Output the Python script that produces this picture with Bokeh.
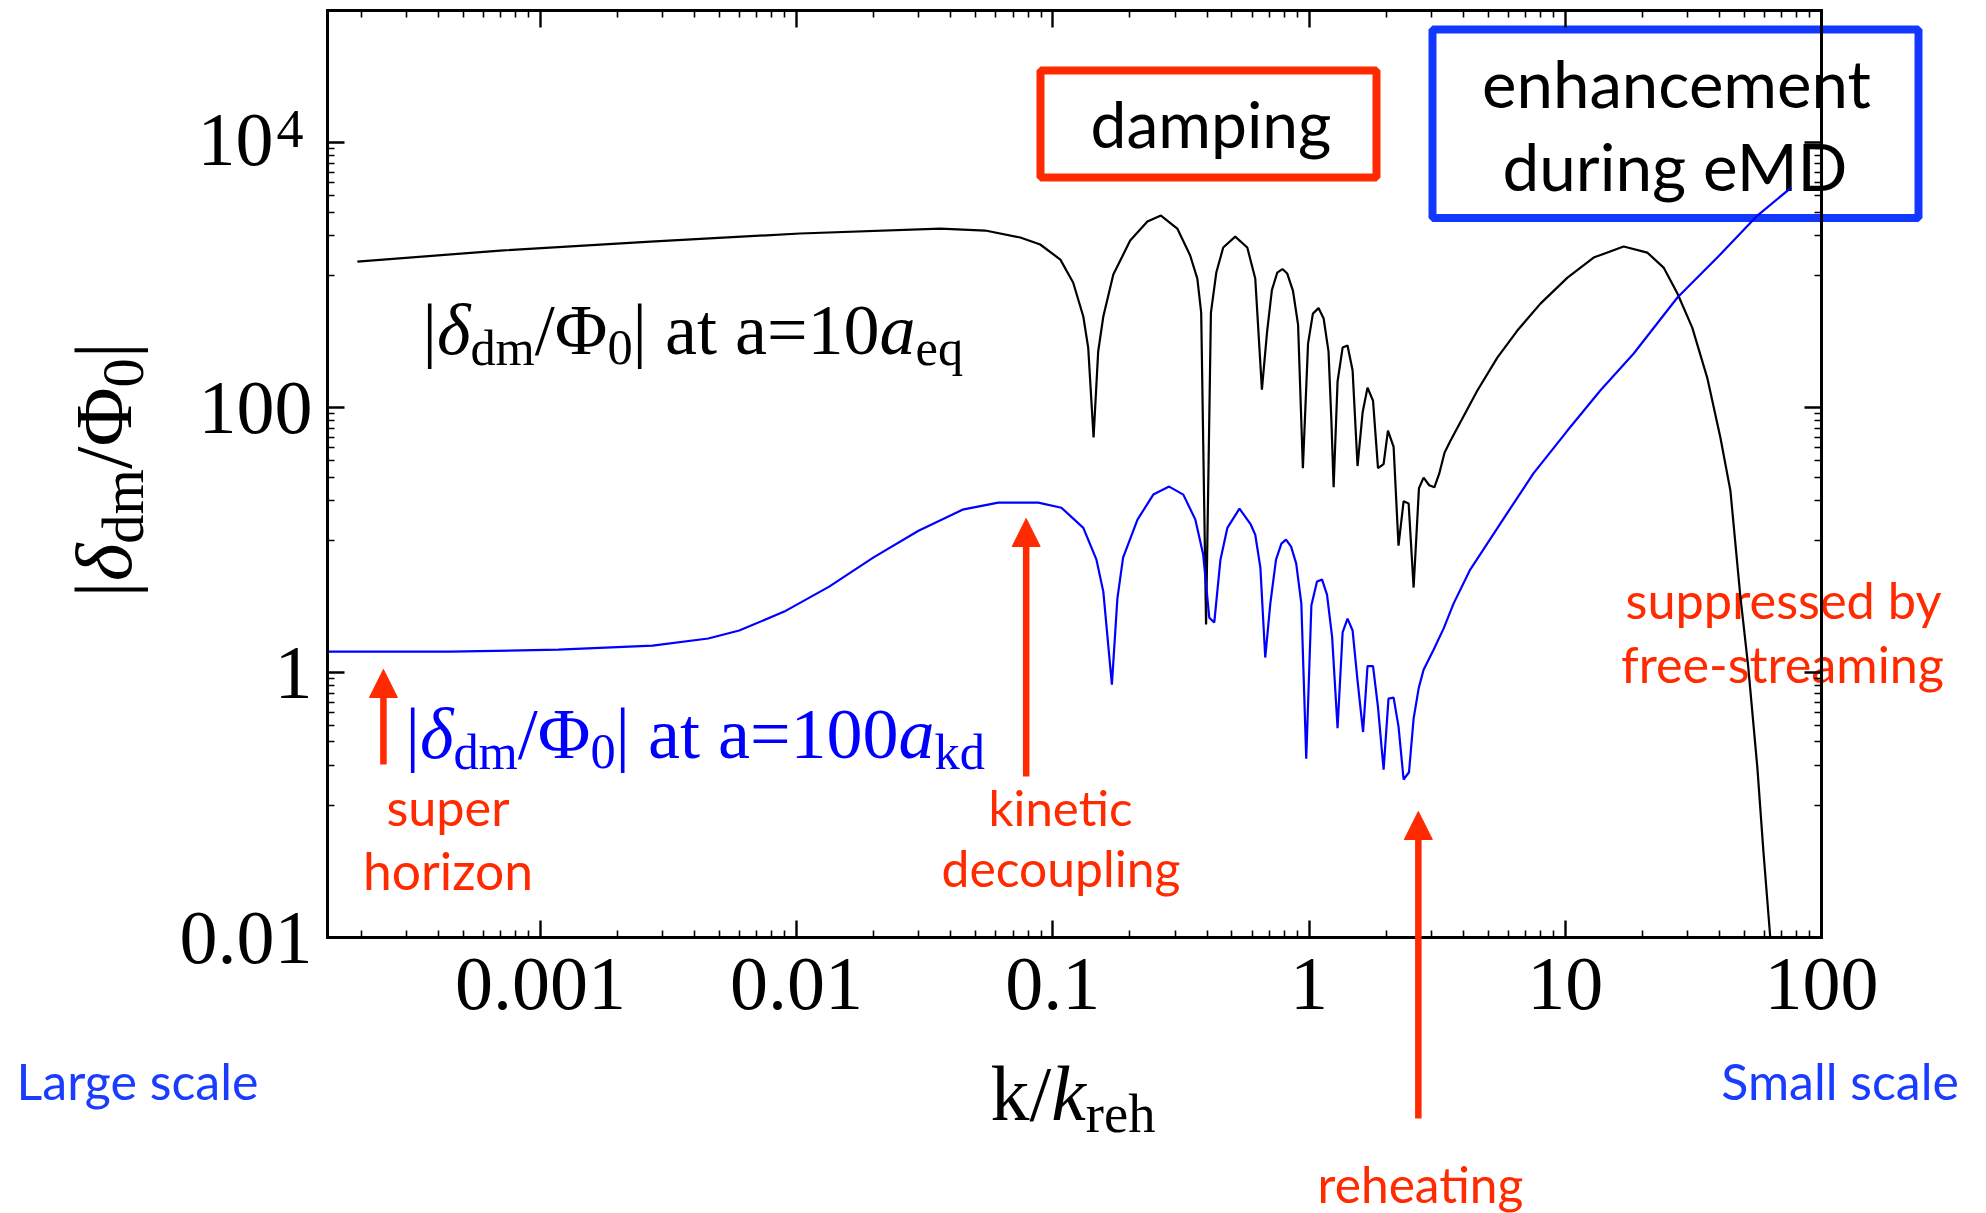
import math, os, glob
from bokeh.plotting import figure
from bokeh.models import (Label, Arrow, NormalHead, BoxAnnotation, LogAxis,
                          FixedTicker, CustomJSTickFormatter)
from bokeh.embed import file_html
from bokeh.resources import INLINE

try:
    from PIL import ImageFont
except Exception:
    ImageFont = None

# ---------------- data ----------------
# |delta_dm / Phi_0| at a = 10 a_eq  (black)
K_EQ = [1.93e-4, 6.97e-4, 2.69e-3, 0.0103, 0.0364, 0.0545, 0.0746, 0.0893, 0.107, 0.120,
        0.1315, 0.1374, 0.1442, 0.1503, 0.1574, 0.1722, 0.2004, 0.2339, 0.2642, 0.306,
        0.3436, 0.3664, 0.3793, 0.3963, 0.414, 0.4345, 0.4624, 0.515, 0.574, 0.6166,
        0.6546, 0.6855, 0.716, 0.7516, 0.787, 0.822, 0.865, 0.906, 0.946, 0.991,
        1.035, 1.089, 1.140, 1.191, 1.222, 1.247, 1.292, 1.352, 1.413, 1.479,
        1.546, 1.618, 1.691, 1.777, 1.858, 1.954, 2.032, 2.138, 2.234, 2.339,
        2.447, 2.559, 2.685, 2.799, 2.944, 3.083, 3.221, 3.381, 3.556, 3.890,
        4.539, 5.43, 6.50, 8.0, 10.2, 12.9, 16.9, 20.9, 24.2, 27.4,
        31.3, 35.8, 40.3, 44.1, 48.2, 51.8, 56.2, 59.3, 63.1]
D_EQ = [1271, 1538, 1800, 2070, 2255, 2180, 1930, 1710, 1315, 883,
        489, 285, 59.6, 266, 489, 1014, 1832, 2549, 2830, 2255,
        1412, 946, 524, 2.31, 524, 1050, 1622, 1963, 1622, 946,
        137, 372, 774, 1050, 1116, 1032, 768, 425, 35, 305,
        514, 566, 472, 267, 80.5, 25.1, 158, 285, 295, 191,
        36.3, 92, 142, 113, 35, 37.5, 67.3, 50.6, 9.1, 19.7,
        18.9, 4.39, 24.7, 29.7, 26.0, 25.1, 31.8, 45.9, 55.8, 77.3,
        135, 239, 383, 612, 962, 1362, 1651, 1486, 1145, 729,
        403, 169, 59.6, 23.7, 3.82, 1.09, 0.191, 0.0453, 0.01]

# |delta_dm / Phi_0| at a = 100 a_kd  (blue)
K_KD = [1.476e-4, 4.45e-4, 1.175e-3, 2.74e-3, 4.52e-3, 5.97e-3, 8.95e-3, 0.0134, 0.0199, 0.0299,
        0.0444, 0.0612, 0.0877, 0.108, 0.1315, 0.148, 0.1574, 0.170, 0.1786, 0.188,
        0.214, 0.2466, 0.2844, 0.323, 0.360, 0.386, 0.408, 0.4266, 0.451, 0.480,
        0.535, 0.590, 0.6166, 0.6457, 0.6745, 0.706, 0.743, 0.780, 0.813, 0.851,
        0.891, 0.933, 0.975, 1.021, 1.074, 1.124, 1.175, 1.230, 1.292, 1.352,
        1.413, 1.479, 1.546, 1.625, 1.691, 1.777, 1.858, 1.954, 2.042, 2.138,
        2.234, 2.339, 2.455, 2.559, 2.679, 2.799, 3.062, 3.350, 3.664, 4.256,
        5.57, 7.50, 10.2, 13.7, 18.5, 27.4, 39.2, 56.2, 76.2]
D_KD = [1.44, 1.44, 1.49, 1.60, 1.81, 2.08, 2.89, 4.46, 7.39, 11.8,
        17.0, 19.2, 19.2, 17.6, 12.4, 7.13, 4.09, 0.811, 3.62, 7.39,
        14.3, 22.1, 25.4, 22.1, 14.3, 7.84, 2.60, 2.39, 7.13, 12.4,
        17.3, 13.3, 11.0, 6.21, 1.30, 3.32, 7.13, 9.42, 10.1, 8.95,
        6.66, 3.32, 0.224, 3.21, 4.87, 5.04, 3.88, 1.87, 0.380, 2.01,
        2.56, 2.08, 0.871, 0.356, 1.12, 1.12, 0.548, 0.185, 0.637, 0.647,
        0.393, 0.156, 0.177, 0.450, 0.764, 1.05, 1.49, 2.15, 3.32, 6.0,
        13.3, 31.8, 67.3, 135, 257, 680, 1362, 2830, 4603]

X_TICKS = [0.001, 0.01, 0.1, 1, 10, 100]
X_TICK_LABELS = ["0.001", "0.01", "0.1", "1", "10", "100"]
Y_TICKS = [0.01, 1, 100, 10000]
Y_TICK_LABELS = ["0.01", "1", "100", ""]      # 10^4 is drawn as "10" + raised "4"
Y_TOP_BASE, Y_TOP_EXP = "10", "4"

# k positions the red arrows point at: super horizon, kinetic decoupling, reheating
ARROW_K = [2.44e-4, 0.0787, 2.67]

# ---------------- layout (page pixels) ----------------
W, H = 1986, 1213
FL, FR, FT, FB = 327, 1821, 10, 937          # the drawn axes box
XMIN, XMAX = 1.476e-4, 100.0
YMIN, YMAX = 0.01, 1e5

RED = "#ff2a00"
BLUE_TXT = "#1a3cff"
BLUE_BOX = "#1238ff"
SERIF = "Liberation Serif"
SANS = "Lato"
MID = 0.372   # labels are anchored at their vertical middle: baseline sits MID*size below


def px2data(cx, cy):
    lx = math.log10(XMIN) + (cx - FL) / (FR - FL) * (math.log10(XMAX) - math.log10(XMIN))
    ly = math.log10(YMIN) + (FB - cy) / (FB - FT) * (math.log10(YMAX) - math.log10(YMIN))
    return 10 ** lx, 10 ** ly


def _font_path(names):
    roots = ["/usr/share/fonts", "/usr/local/share/fonts",
             os.path.expanduser("~/.fonts"), os.path.expanduser("~/.local/share/fonts")]
    for r in roots:
        for n in names:
            try:
                hits = glob.glob(os.path.join(r, "**", n), recursive=True)
            except Exception:
                hits = []
            if hits:
                return sorted(hits)[0]
    return None


FONT_PATHS = {
    "normal": _font_path(["LiberationSerif-Regular.ttf"]),
    "italic": _font_path(["LiberationSerif-Italic.ttf"]),
    "sans": _font_path(["Lato-Regular.ttf", "Lato-Regular.otf"]),
}
TIMES_W = {'|': 0.2, '\u03b4': 0.5, 'd': 0.5, 'm': 0.778, '/': 0.278, '\u03a6': 0.76,
           '0': 0.5, '1': 0.5, ' ': 0.25, 'a': 0.444, 't': 0.278, '=': 0.564,
           'e': 0.444, 'q': 0.5, 'k': 0.5, 'r': 0.333, 'h': 0.5}
_FC = {}


def measure(text, key, size):
    path = FONT_PATHS.get(key)
    if ImageFont is not None and path:
        try:
            if path not in _FC:
                _FC[path] = ImageFont.truetype(path, 200)
            return _FC[path].getlength(text) * size / 200.0
        except Exception:
            pass
    if key == "sans":
        return sum(0.26 if c == ' ' else 0.52 for c in text) * size
    return sum(TIMES_W.get(c, 0.5) for c in text) * size


# the plotting frame covers the whole canvas; the visible axes box is drawn by
# axes pinned (fixed_location) to the edges of the data window
x0_, y1_ = px2data(0, H)
x1_, y0_ = px2data(W, 0)
p = figure(width=W, height=H, x_axis_type="log", y_axis_type="log",
           x_range=(x0_, x1_), y_range=(y1_, y0_), title=None,
           output_backend="svg", toolbar_location=None,
           min_border_left=0, min_border_right=0, min_border_top=0, min_border_bottom=0)
p.xgrid.visible = False
p.ygrid.visible = False
p.outline_line_color = None
p.background_fill_color = "white"
p.border_fill_color = "white"

x_minor = [j * 10.0 ** n for n in range(-4, 2) for j in range(2, 10) if XMIN <= j * 10.0 ** n <= XMAX]
y_minor = [j * 10.0 ** n for n in (-1, 1, 3) for j in range(1, 10)]

FMT_CODE = """
const i = tv.findIndex(t => Math.abs(Math.log10(t) - Math.log10(tick)) < 1e-6);
return i >= 0 ? lab[i] : '';
"""


def style_axis(ax, ticks, minor, labels, show, loc, bounds):
    ax.ticker = FixedTicker(ticks=ticks, minor_ticks=minor)
    ax.formatter = CustomJSTickFormatter(args=dict(tv=ticks, lab=labels if show else [""] * len(ticks)),
                                         code=FMT_CODE)
    ax.fixed_location = loc
    ax.bounds = bounds
    ax.axis_line_width = 3
    ax.axis_line_color = "black"
    ax.axis_line_cap = "square"
    ax.major_tick_in = 17
    ax.major_tick_out = 0
    ax.minor_tick_in = 7
    ax.minor_tick_out = 0
    ax.major_tick_line_width = 2.4
    ax.minor_tick_line_width = 1.6
    ax.major_tick_line_color = "black"
    ax.minor_tick_line_color = "black"
    ax.axis_label = None
    if show:
        ax.major_label_text_font = SERIF
        ax.major_label_text_font_size = "76px"
        ax.major_label_text_color = "black"
    else:
        ax.major_label_text_font_size = "1px"
        ax.major_label_standoff = 0


style_axis(p.xaxis[0], X_TICKS, x_minor, X_TICK_LABELS, True, YMIN, (XMIN, XMAX))
p.xaxis[0].major_label_standoff = 21
style_axis(p.yaxis[0], Y_TICKS, y_minor, Y_TICK_LABELS, True, XMIN, (YMIN, YMAX))
p.yaxis[0].major_label_standoff = 15

top_ax = LogAxis()
style_axis(top_ax, X_TICKS, x_minor, X_TICK_LABELS, False, YMAX, (XMIN, XMAX))
p.add_layout(top_ax, "above")
right_ax = LogAxis()
style_axis(right_ax, Y_TICKS, y_minor, Y_TICK_LABELS, False, XMAX, (YMIN, YMAX))
p.add_layout(right_ax, "right")

# ---------------- boxes ----------------
for (l, r, t, b), col in [((1040, 1376, 70, 177), RED), ((1432, 1918, 29, 217.5), BLUE_BOX)]:
    bx0, by0 = px2data(l, b)
    bx1, by1 = px2data(r, t)
    p.add_layout(BoxAnnotation(left=bx0, right=bx1, bottom=by0, top=by1, fill_alpha=0.0,
                               fill_color=None, line_color=col, line_width=8, line_alpha=1.0,
                               level="underlay"))

# ---------------- curves ----------------
p.line(K_EQ, D_EQ, line_color="black", line_width=2.2)
p.line(K_KD, D_KD, line_color="#0000ff", line_width=2.2)

# ---------------- arrows ----------------
for k, (tail, tip) in zip(ARROW_K, [(764, 669), (776, 518), (1118, 811)]):
    ys = px2data(0, tail)[1]
    ye = px2data(0, tip)[1]
    p.add_layout(Arrow(x_start=k, y_start=ys, x_end=k, y_end=ye, line_color=RED, line_width=6.5,
                       end=NormalHead(size=28, fill_color=RED, line_color=RED, line_width=1)))


# ---------------- texts ----------------
def put(text, cx, cy, font, size, color, align="left", style="normal", angle=0.0, dx=0.0, dy=0.0):
    """cx, cy: baseline anchor in page pixels; dx along the text, dy downward (text frame)."""
    ax_, ay_ = px2data(cx, cy)
    up = MID * size - dy          # how far the label's anchor sits above the baseline
    if angle == 0:
        xo, yo = dx, up
    else:
        xo, yo = -up, dx
    p.add_layout(Label(x=ax_, y=ay_, x_offset=xo, y_offset=yo, text=text,
                       text_font=font, text_font_style=style, text_font_size=f"{size:.1f}px",
                       text_color=color, text_align=align, text_baseline="middle", angle=angle,
                       level="underlay"))


def add_rich(cx, cy, segs, color, size, angle=0.0):
    adv = 0.0
    for text, rel, style, shift in segs:
        fs = size * rel
        put(text, cx, cy, SERIF, fs, color, "left", style, angle, dx=adv, dy=shift)
        adv += measure(text, style, fs)


SUB = 0.7
add_rich(422, 356, [("|", 1, "normal", 0), ("\u03b4", 1, "italic", 0), ("dm", SUB, "normal", 10),
                    ("/\u03a6", 1, "normal", 0), ("0", SUB, "normal", 10),
                    ("| at a=10", 1, "normal", 0), ("a", 1, "italic", 0), ("eq", SUB, "normal", 10)],
         "black", 72)
add_rich(405, 760, [("|", 1, "normal", 0), ("\u03b4", 1, "italic", 0), ("dm", SUB, "normal", 10),
                    ("/\u03a6", 1, "normal", 0), ("0", SUB, "normal", 10),
                    ("| at a=100", 1, "normal", 0), ("a", 1, "italic", 0), ("kd", SUB, "normal", 10)],
         "#0000ff", 72)
add_rich(990, 1122, [("k/", 1, "normal", 0), ("k", 1, "italic", 0), ("reh", SUB, "normal", 11)],
         "black", 78)
add_rich(134, 597, [("|", 1, "normal", 0), ("\u03b4", 1, "italic", 0), ("dm", 0.72, "normal", 11),
                    ("/\u03a6", 1, "normal", 0), ("0", 0.72, "normal", 11), ("|", 1, "normal", 0)],
         "black", 81, angle=math.pi / 2)

# "10" + raised "4" tick label of the y axis
put(Y_TOP_BASE, 273, 168, SERIF, 76, "black", align="right")
put(Y_TOP_EXP, 276, 149, SERIF, 54, "black", align="left")

SANS_TEXTS = [
    ("damping", 1210.5, 147, 241, "black"),
    ("enhancement", 1676, 107, 389, "black"),
    ("during eMD", 1674.5, 189, 345, "black"),
    ("super", 447.5, 825, 123, RED),
    ("horizon", 447.5, 889, 170, RED),
    ("kinetic", 1060, 824, 144, RED),
    ("decoupling", 1060.5, 886, 239, RED),
    ("reheating", 1420, 1202, 206, RED),
    ("suppressed by", 1783, 618, 316, RED),
    ("free-streaming", 1782, 682, 323, RED),
    ("Large scale", 137, 1099, 242, BLUE_TXT),
    ("Small scale", 1839.6, 1099, 237.6, BLUE_TXT),
]
for text, cx, cy, tw, col in SANS_TEXTS:
    fs = tw / measure(text, "sans", 100.0) * 100.0
    put(text, cx, cy, SANS, fs, col, align="center")

open("out.html", "w").write(file_html(p, INLINE))
